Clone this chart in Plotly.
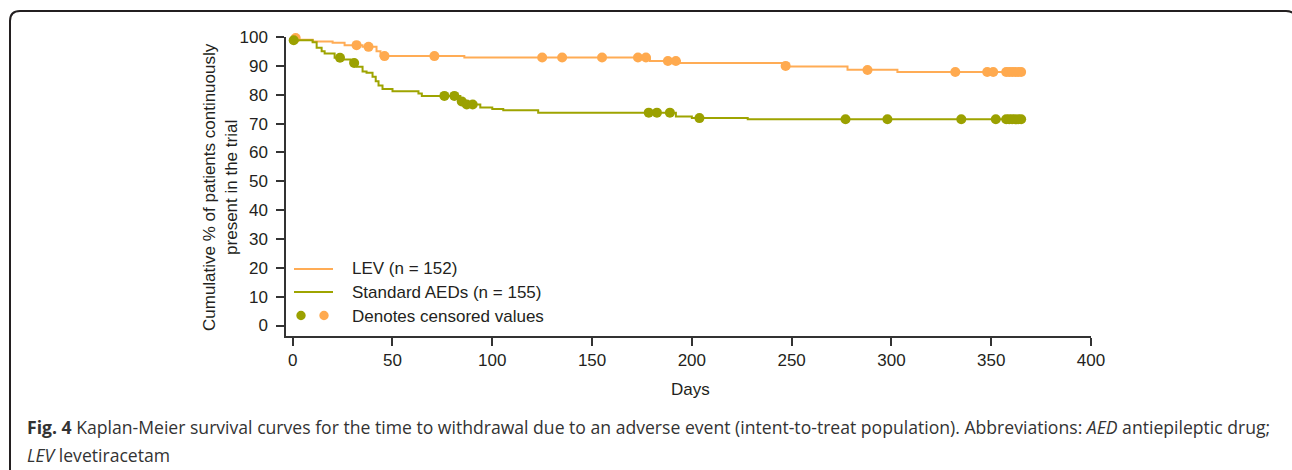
import plotly.graph_objects as go

# ---------------- data ----------------
lev_step_days = [0, 2, 10, 20, 26, 35, 42, 44, 86, 179, 194, 246, 278, 303, 365]
lev_step_surv = [100, 99.1, 98.5, 98.0, 97.2, 96.6, 95.1, 93.4, 92.9, 91.7, 91.0, 89.8, 88.7, 87.9, 87.9]

lev_cens_days = [1.5, 32, 38, 46, 71, 125, 135, 155, 173, 177, 188, 192, 247, 288,
                 332, 348, 351, 357.5, 359, 360.5, 362, 363.5, 365]
lev_cens_vals = [99.7, 97.2, 96.6, 93.4, 93.4, 92.9, 92.9, 92.9, 92.9, 92.9, 91.7, 91.7, 90.0, 88.6,
                 87.9, 87.9, 87.9, 87.9, 87.9, 87.9, 87.9, 87.9, 87.9]

std_step_days = [0, 0.5, 10, 12, 14.5, 16, 21, 25, 29, 32, 35, 37, 40, 41.6, 43, 45, 50, 63, 64.7,
                 84, 87, 94, 100, 105.5, 123, 192, 200, 228, 365]
std_step_surv = [100, 98.9, 98.2, 96.3, 95.1, 94.3, 92.8, 92.2, 91.0, 89.7, 88.1, 87.6, 86.2, 84.7,
                 83.2, 82.0, 81.2, 80.4, 79.6, 77.7, 76.6, 75.6, 75.1, 74.6, 73.8, 72.5, 71.9, 71.5, 71.5]

std_cens_days = [0.5, 23.7, 30.8, 76, 81, 84.7, 87.2, 90.2, 178.4, 182.5, 189, 203.8, 277, 298,
                 335, 352.3, 357.5, 359, 360.5, 362, 363.5, 365]
std_cens_vals = [98.9, 92.8, 91.0, 79.6, 79.6, 77.7, 76.6, 76.6, 73.8, 73.8, 73.8, 71.9, 71.5, 71.5,
                 71.5, 71.5, 71.5, 71.5, 71.5, 71.5, 71.5, 71.5]

x_ticks = [0, 50, 100, 150, 200, 250, 300, 350, 400]
y_ticks = [0, 10, 20, 30, 40, 50, 60, 70, 80, 90, 100]

legend_labels = ["LEV (n = 152)", "Standard AEDs (n = 155)", "Denotes censored values"]
x_title = "Days"
y_title = "Cumulative % of patients continuously<br>present in the trial"
caption_line1 = ("<b>Fig. 4</b> Kaplan-Meier survival curves for the time to withdrawal due to an adverse "
                 "event (intent-to-treat population). Abbreviations: <i>AED</i> antiepileptic drug;")
caption_line2 = "<i>LEV</i> levetiracetam"

# ---------------- styles ----------------
W, H = 1292, 470
L, R, T, B = 286, 1091, 37, 336
ORANGE_LINE = "#FFAC55"
ORANGE_MARK = "#FFAA4F"
GREEN_LINE = "#9EA400"
GREEN_MARK = "#9BA100"
AXIS = "#333333"
TXT = "#231F20"
FONT = "Liberation Sans, Arial, sans-serif"
CAP_FONT = dict(family="Open Sans, sans-serif", size=17.6, color="#333333")


def px(xp):
    return (xp - L) / (R - L)


def py(yp):
    return (B - yp) / (B - T)


fig = go.Figure()
fig.add_trace(go.Scatter(x=lev_step_days, y=lev_step_surv, mode="lines", line_shape="hv",
                         line=dict(color=ORANGE_LINE, width=2), cliponaxis=False, showlegend=False))
fig.add_trace(go.Scatter(x=lev_cens_days, y=lev_cens_vals, mode="markers",
                         marker=dict(color=ORANGE_MARK, size=10, line=dict(width=0)),
                         cliponaxis=False, showlegend=False))
fig.add_trace(go.Scatter(x=std_step_days, y=std_step_surv, mode="lines", line_shape="hv",
                         line=dict(color=GREEN_LINE, width=2), cliponaxis=False, showlegend=False))
fig.add_trace(go.Scatter(x=std_cens_days, y=std_cens_vals, mode="markers",
                         marker=dict(color=GREEN_MARK, size=10, line=dict(width=0)),
                         cliponaxis=False, showlegend=False))

shapes = []
# manual legend
shapes.append(dict(type="line", xref="paper", yref="paper", x0=px(294), x1=px(333), y0=py(269), y1=py(269),
                   line=dict(color=ORANGE_LINE, width=2)))
shapes.append(dict(type="line", xref="paper", yref="paper", x0=px(294), x1=px(333), y0=py(292), y1=py(292),
                   line=dict(color=GREEN_LINE, width=2)))
for cx, col in [(301, GREEN_MARK), (324, ORANGE_MARK)]:
    shapes.append(dict(type="circle", xref="paper", yref="paper", x0=px(cx - 4.7), x1=px(cx + 4.7),
                       y0=py(315.5 + 4.7), y1=py(315.5 - 4.7), fillcolor=col, line=dict(width=0)))

# rounded frame
fx0, fx1, fy0, fy1, rr = 10, 1296, 11, 490, 10
path = (f"M {px(fx0)},{py(fy1)} L {px(fx0)},{py(fy0 + rr)} Q {px(fx0)},{py(fy0)} {px(fx0 + rr)},{py(fy0)} "
        f"L {px(fx1 - rr)},{py(fy0)} Q {px(fx1)},{py(fy0)} {px(fx1)},{py(fy0 + rr)} L {px(fx1)},{py(fy1)}")
shapes.append(dict(type="path", xref="paper", yref="paper", path=path, line=dict(color=TXT, width=2)))

annotations = []
for lbl, yy in zip(legend_labels, [268, 292, 316]):
    annotations.append(dict(text=lbl, xref="paper", yref="paper", x=px(350), y=py(yy), xanchor="left",
                            yanchor="middle", showarrow=False, font=dict(family=FONT, size=17, color=TXT)))
annotations.append(dict(text=x_title, xref="paper", yref="paper", x=px(690), y=py(389), xanchor="center",
                        yanchor="middle", showarrow=False, font=dict(family=FONT, size=17, color=TXT)))
annotations.append(dict(text=y_title, xref="paper", yref="paper", x=px(220), y=py(187), xanchor="center",
                        yanchor="middle", textangle=-90, showarrow=False,
                        font=dict(family=FONT, size=17, color=TXT)))
annotations.append(dict(text=caption_line1, xref="paper", yref="paper", x=px(25), y=py(427), xanchor="left",
                        yanchor="middle", showarrow=False, font=CAP_FONT))
annotations.append(dict(text=caption_line2, xref="paper", yref="paper", x=px(25), y=py(455), xanchor="left",
                        yanchor="middle", showarrow=False, font=CAP_FONT))

fig.update_layout(
    width=W, height=H, autosize=False,
    margin=dict(l=L, r=W - R, t=T, b=H - B, pad=0),
    paper_bgcolor="white", plot_bgcolor="white",
    font=dict(family=FONT, size=17, color=TXT),
    shapes=shapes, annotations=annotations, showlegend=False,
    xaxis=dict(range=[-3.36, 400], tickvals=x_ticks, ticktext=[str(v) for v in x_ticks],
               showgrid=False, zeroline=False, showline=True, linecolor=AXIS, linewidth=1.5,
               ticks="outside", ticklen=8, tickwidth=1.5, tickcolor=AXIS,
               tickfont=dict(family=FONT, size=17, color=TXT), fixedrange=True),
    yaxis=dict(range=[-3.64, 100.02], tickvals=y_ticks, ticktext=[str(v) for v in y_ticks],
               showgrid=False, zeroline=False, showline=True, linecolor=AXIS, linewidth=1.5,
               ticks="outside", ticklen=8, tickwidth=1.5, tickcolor=AXIS, ticklabelstandoff=5,
               tickfont=dict(family=FONT, size=17, color=TXT), fixedrange=True),
)

fig.write_html("out.html", config={"displayModeBar": False},
               post_script="document.body.style.margin='0px';")
